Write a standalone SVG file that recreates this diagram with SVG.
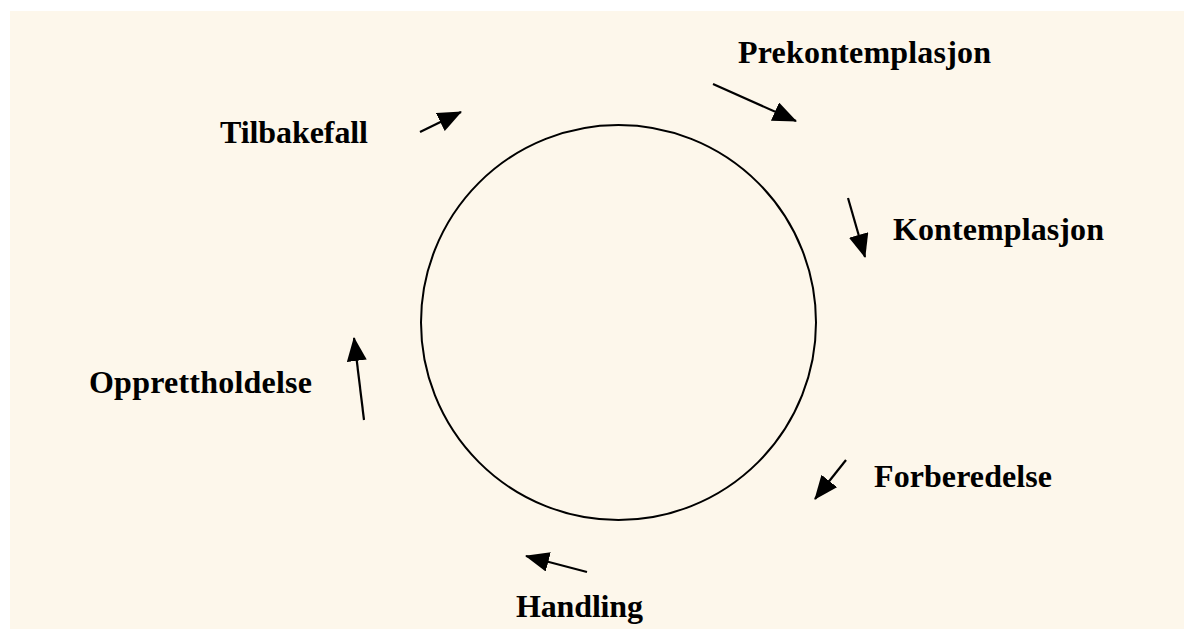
<svg xmlns="http://www.w3.org/2000/svg" width="1184" height="629" viewBox="0 0 1184 629">
<style>
.lbl{font-family:"Liberation Serif","Times New Roman",serif;font-weight:bold;font-size:32px;fill:#000}
.conn line{stroke:#000;stroke-width:2.2}
</style>
<defs>
<marker id="ah" markerUnits="userSpaceOnUse" markerWidth="24" markerHeight="20" refX="23" refY="10" orient="auto" viewBox="0 0 24 20">
<path d="M0,0 L24,10 L0,20 z" fill="#000"/>
</marker>
</defs>
<rect x="0" y="0" width="1184" height="629" fill="#fff"/>
<rect x="10" y="11" width="1174" height="618" fill="#fdf7eb"/>
<g id="cycle">
<circle cx="618.5" cy="322.5" r="197.5" fill="none" stroke="#000" stroke-width="2"/>
</g>
<g id="connectors" class="conn">
<line x1="420" y1="132" x2="461" y2="112" marker-end="url(#ah)"/>
<line x1="713" y1="84" x2="796" y2="121" marker-end="url(#ah)"/>
<line x1="848" y1="198" x2="865" y2="257" marker-end="url(#ah)"/>
<line x1="846" y1="460" x2="815" y2="499" marker-end="url(#ah)"/>
<line x1="587" y1="572" x2="526" y2="556" marker-end="url(#ah)"/>
<line x1="364" y1="420" x2="354" y2="338" marker-end="url(#ah)"/>
</g>
<g id="prekontemplasjon"><text class="lbl" x="738" y="63" textLength="253">Prekontemplasjon</text></g>
<g id="kontemplasjon"><text class="lbl" x="893" y="240" textLength="211">Kontemplasjon</text></g>
<g id="forberedelse"><text class="lbl" x="874" y="487" textLength="178">Forberedelse</text></g>
<g id="handling"><text class="lbl" x="516" y="617" textLength="127">Handling</text></g>
<g id="opprettholdelse"><text class="lbl" x="89" y="393" textLength="223">Opprettholdelse</text></g>
<g id="tilbakefall"><text class="lbl" x="220" y="143" textLength="148">Tilbakefall</text></g>
</svg>
